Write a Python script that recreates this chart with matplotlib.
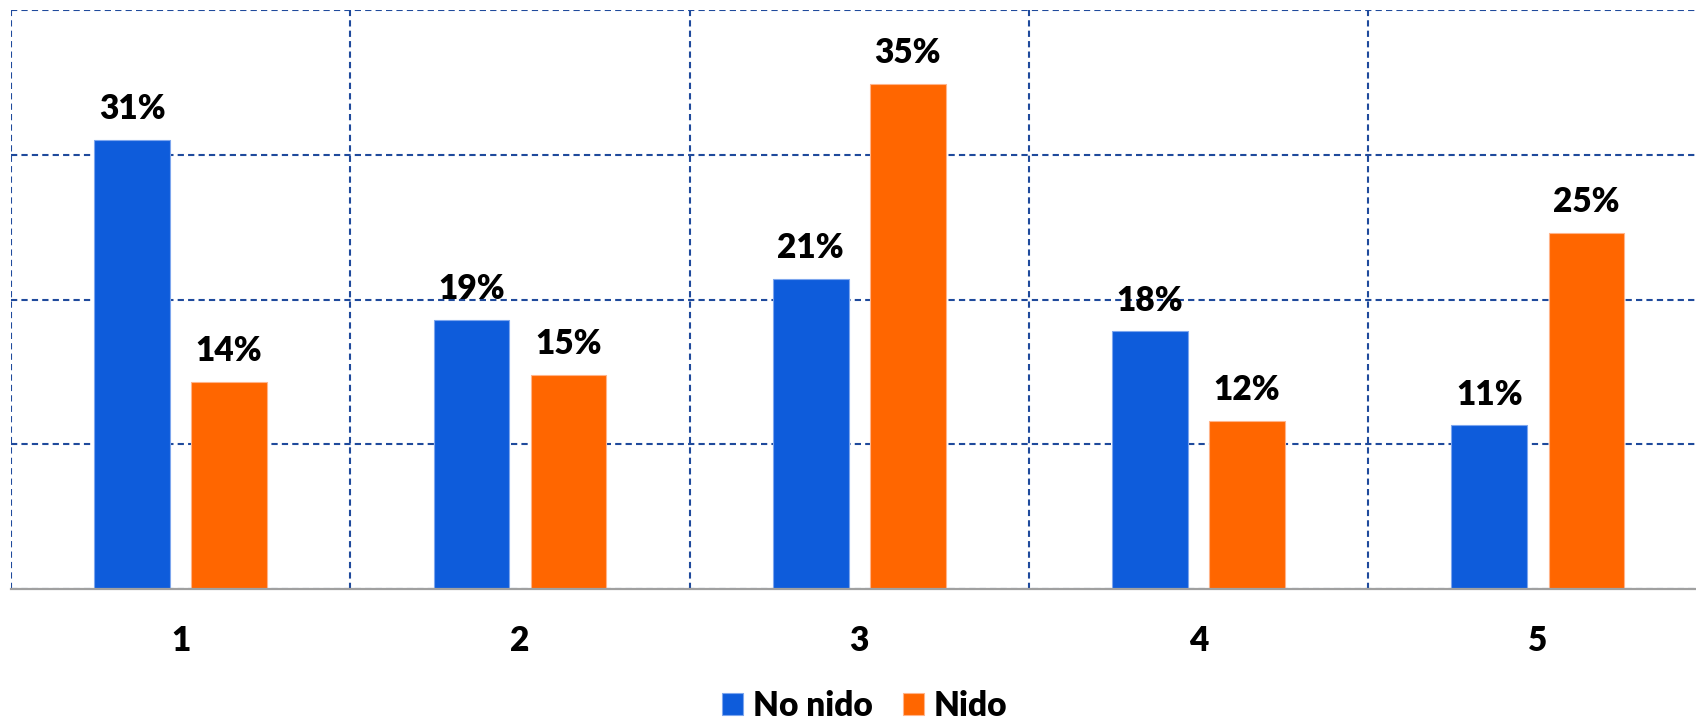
import matplotlib
matplotlib.use('Agg')
import numpy as np
import matplotlib.pyplot as plt

categories = ['1', '2', '3', '4', '5']
no_nido = [31.0, 18.6, 21.4, 17.8, 11.3]
nido = [14.3, 14.8, 34.9, 11.6, 24.6]
series_names = ['No nido', 'Nido']

BLUE = '#0E5CDB'
ORANGE = '#FF6600'
GRID = '#1F4A9C'
WEIGHT = 'heavy'

plt.rcParams['font.family'] = ['Lato', 'DejaVu Sans']
plt.rcParams['font.weight'] = WEIGHT

fig = plt.figure(figsize=(16.96, 7.21), dpi=100)
ax = fig.add_axes([11 / 1696, 132 / 721, 1696.5 / 1696, 579 / 721])

x = np.arange(len(categories))
w = 0.223
off = 0.143
b1 = ax.bar(x - off, no_nido, w, color=BLUE, edgecolor='#7DA6EE', linewidth=0.8, label=series_names[0], zorder=3)
b2 = ax.bar(x + off, nido, w, color=ORANGE, edgecolor='#FFB48A', linewidth=0.8, label=series_names[1], zorder=3)

for bars, vals in ((b1, no_nido), (b2, nido)):
    for rect, v in zip(bars, vals):
        ax.annotate('%.0f%%' % v, (rect.get_x() + rect.get_width() / 2, v),
                    xytext=(0, 15), textcoords='offset points',
                    ha='center', va='baseline', fontsize=24, fontweight=WEIGHT, color='black')

ax.set_xlim(-0.5, 4.5)
ax.set_ylim(0, 40)
ax.set_yticks([0, 10, 20, 30, 40])
ax.set_yticklabels([])
ax.set_xticks(x)
ax.set_xticklabels(categories, fontsize=24, fontweight=WEIGHT)
ax.set_xticks(np.arange(-0.5, 5, 1.0), minor=True)
ax.tick_params(axis='both', which='both', length=0)
ax.tick_params(axis='x', pad=26)

ax.set_axisbelow(True)
ax.grid(axis='y', which='major', color=GRID, linestyle=(0, (3, 2)), linewidth=1.5)
ax.grid(axis='x', which='minor', color=GRID, linestyle=(0, (3, 2)), linewidth=1.5)
ax.grid(axis='x', which='major', visible=False)

for side in ('top', 'right', 'left'):
    ax.spines[side].set_visible(False)
ax.spines['bottom'].set_color('#A0A0A0')
ax.spines['bottom'].set_linewidth(1.6)
ax.spines['bottom'].set_zorder(4)

fig.legend(handles=[b1, b2], labels=series_names, loc='center',
           bbox_to_anchor=(865 / 1696, 1 - 706 / 721), ncol=2, frameon=False,
           fontsize=24, handlelength=0.63, handleheight=0.63, handletextpad=0.3,
           columnspacing=0.9, borderpad=0, borderaxespad=0)

fig.savefig('out.png', dpi=100)
